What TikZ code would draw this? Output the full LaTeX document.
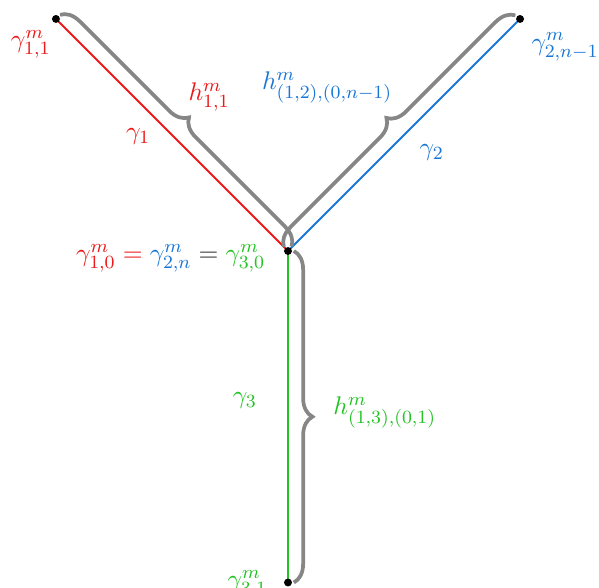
\documentclass[tikz,border=0pt]{standalone}
\usepackage{amsmath}
\usepackage{tikz}
\usetikzlibrary{decorations.pathreplacing, positioning}
\definecolor{cred}{RGB}{235,25,25}
\definecolor{cblue}{RGB}{25,118,215}
\definecolor{cgreen}{RGB}{35,195,35}
\tikzset{
  edge/.style={thick},
  pt/.style={circle, fill=black, inner sep=0pt, minimum size=3.4pt},
  hbrace/.style={decorate, decoration={brace, amplitude=8pt, raise=2.5pt},
    line width=1.6pt, gray!95},
  lab/.style={inner sep=1pt, font=\fontsize{10.9pt}{13pt}\selectfont}
}

\begin{document}
\begin{tikzpicture}
  \useasboundingbox (-4.344,-5.068) rectangle (4.691,3.786);
  \coordinate (o) at (0,0);
  \coordinate (a) at (-3.5,3.5);
  \coordinate (b) at (3.5,3.5);
  \coordinate (c) at (0,-5);

  % the three curves
  \draw[edge, cred] (o) -- (a);
  \draw[edge, cblue] (o) -- (b);
  \draw[edge, cgreen] (o) -- (c);

  % braces
  \draw[hbrace] (a) -- (o);
  \draw[hbrace] (o) -- (b);
  \draw[hbrace] (o) -- (c);

  \node[pt] (po) at (o) {};
  \node[pt] (pa) at (a) {};
  \node[pt] (pb) at (b) {};
  \node[pt] (pc) at (c) {};

  % labels
  \node[lab, cred] (g11) at (-3.88,3.12) {$\gamma^m_{1,1}$};
  \node[lab, cred] (h11) at (-1.19,2.32) {$h^m_{1,1}$};
  \node[lab, cred] (g1) at (-2.26,1.72) {$\gamma_1$};
  \node[lab, cblue] (h12) at (0.59,2.47) {$h^m_{(1,2),(0,n-1)}$};
  \node[lab, cblue] (g2) at (2.17,1.49) {$\gamma_2$};
  \node[lab, cblue] (g2n) at (4.18,3.08) {$\gamma^m_{2,n-1}$};
  \node[lab, anchor=east, black!80] (g0) at (-0.30,-0.11)
    {$\color{cred}\gamma^m_{1,0}=\color{cblue}\gamma^m_{2,n}\color{black!80}=\color{cgreen}\gamma^m_{3,0}$};
  \node[lab, cgreen] (g3) at (-0.65,-2.25) {$\gamma_3$};
  \node[lab, cgreen] (h13) at (1.46,-2.44) {$h^m_{(1,3),(0,1)}$};
  \node[lab, anchor=east, cgreen] (g31) at (-0.27,-5.03) {$\gamma^m_{3,1}$};
\end{tikzpicture}
\end{document}
